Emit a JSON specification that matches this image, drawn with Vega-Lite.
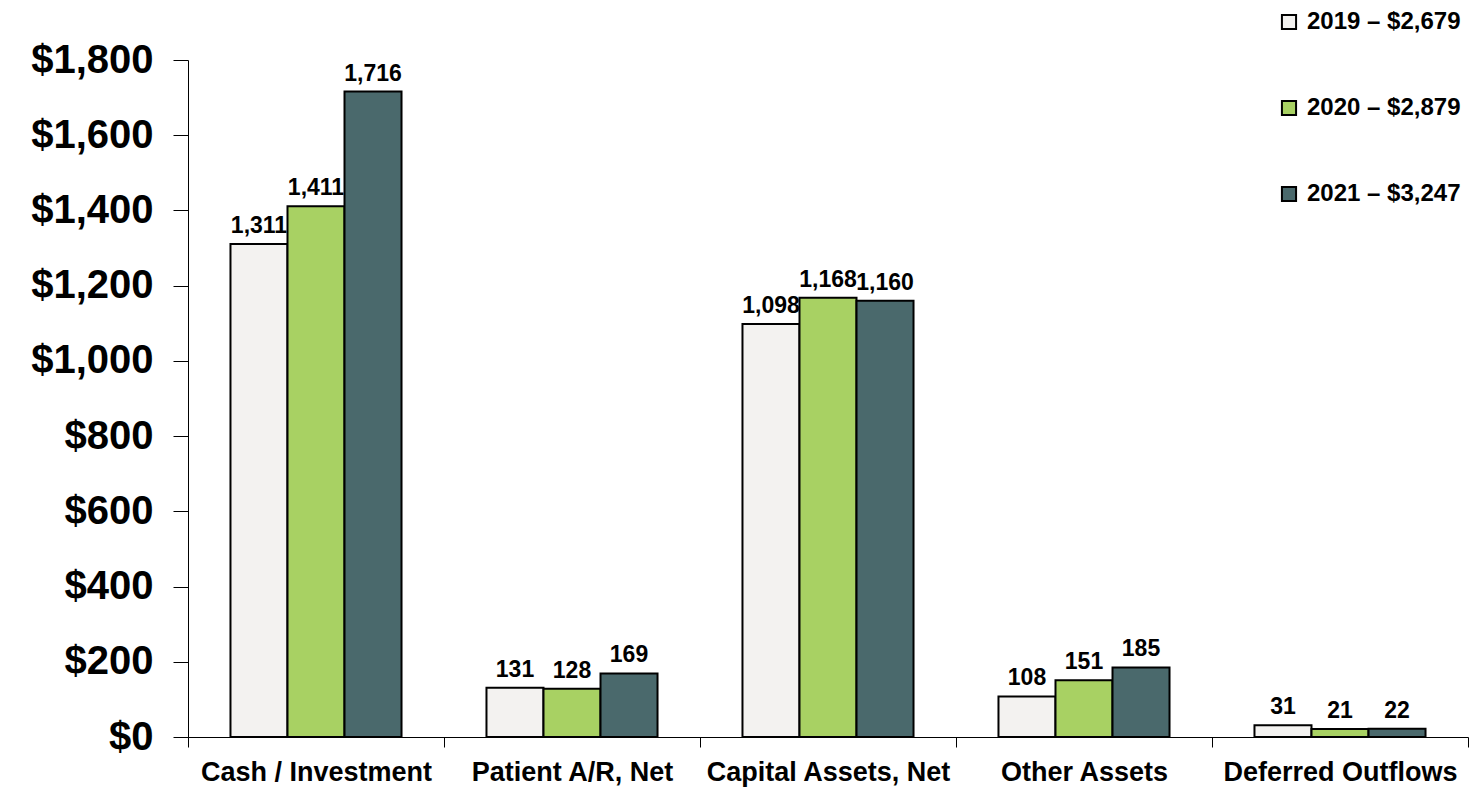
{
  "$schema": "https://vega.github.io/schema/vega-lite/v6.json",
  "width": 1280,
  "height": 677,
  "autosize": {"type": "none"},
  "padding": {"left": 188, "top": 60, "right": 14, "bottom": 54},
  "background": "white",
  "config": {
    "view": {"stroke": null},
    "font": "Liberation Sans"
  },
  "data": {
    "values": [
      {"category": "Cash / Investment", "year": "2019 – $2,679", "value": 1311, "label": "1,311"},
      {"category": "Cash / Investment", "year": "2020 – $2,879", "value": 1411, "label": "1,411"},
      {"category": "Cash / Investment", "year": "2021 – $3,247", "value": 1716, "label": "1,716"},
      {"category": "Patient A/R, Net", "year": "2019 – $2,679", "value": 131, "label": "131"},
      {"category": "Patient A/R, Net", "year": "2020 – $2,879", "value": 128, "label": "128"},
      {"category": "Patient A/R, Net", "year": "2021 – $3,247", "value": 169, "label": "169"},
      {"category": "Capital Assets, Net", "year": "2019 – $2,679", "value": 1098, "label": "1,098"},
      {"category": "Capital Assets, Net", "year": "2020 – $2,879", "value": 1168, "label": "1,168"},
      {"category": "Capital Assets, Net", "year": "2021 – $3,247", "value": 1160, "label": "1,160"},
      {"category": "Other Assets", "year": "2019 – $2,679", "value": 108, "label": "108"},
      {"category": "Other Assets", "year": "2020 – $2,879", "value": 151, "label": "151"},
      {"category": "Other Assets", "year": "2021 – $3,247", "value": 185, "label": "185"},
      {"category": "Deferred Outflows", "year": "2019 – $2,679", "value": 31, "label": "31"},
      {"category": "Deferred Outflows", "year": "2020 – $2,879", "value": 21, "label": "21"},
      {"category": "Deferred Outflows", "year": "2021 – $3,247", "value": 22, "label": "22"}
    ]
  },
  "encoding": {
    "x": {
      "field": "category",
      "type": "nominal",
      "sort": null,
      "scale": {"paddingInner": 0, "paddingOuter": 0},
      "axis": {
        "title": null,
        "labelAngle": 0,
        "labelFont": "Liberation Sans",
        "labelFontSize": 27,
        "labelFontWeight": "bold",
        "labelColor": "black",
        "labelPadding": 12,
        "labelLimit": 0,
        "tickSize": 10,
        "tickColor": "black",
        "tickWidth": 1,
        "tickBand": "extent",
        "domainColor": "black",
        "domainWidth": 1
      }
    },
    "xOffset": {
      "field": "year",
      "type": "nominal",
      "sort": null,
      "scale": {"paddingInner": 0, "paddingOuter": 0.745}
    },
    "y": {
      "field": "value",
      "type": "quantitative",
      "scale": {"domain": [0, 1800], "nice": false},
      "axis": {
        "title": null,
        "values": [0, 200, 400, 600, 800, 1000, 1200, 1400, 1600, 1800],
        "format": "$,.0f",
        "grid": false,
        "labelFont": "Liberation Sans",
        "labelFontSize": 40,
        "labelFontWeight": "bold",
        "labelColor": "black",
        "labelPadding": 20,
        "tickSize": 15,
        "tickColor": "black",
        "domainColor": "black"
      }
    }
  },
  "layer": [
    {
      "mark": {"type": "bar", "stroke": "black", "strokeWidth": 2},
      "encoding": {
        "color": {
          "field": "year",
          "type": "nominal",
          "sort": null,
          "scale": {"range": ["#f3f2f0", "#a8d163", "#4a696c"]},
          "legend": {
            "title": null,
            "orient": "none",
            "legendX": 1089,
            "legendY": -50,
            "padding": 0,
            "symbolType": "square",
            "symbolSize": 200,
            "symbolStrokeColor": "black",
            "symbolStrokeWidth": 2,
            "symbolOpacity": 1,
            "labelFont": "Liberation Sans",
            "labelFontSize": 24,
            "labelFontWeight": "bold",
            "labelColor": "black",
            "labelOffset": 6,
            "rowPadding": 62,
            "labelLimit": 300
          }
        }
      }
    },
    {
      "mark": {
        "type": "text",
        "baseline": "alphabetic",
        "dy": -11,
        "font": "Liberation Sans",
        "fontSize": 23,
        "fontWeight": "bold",
        "color": "black"
      },
      "encoding": {
        "text": {"field": "label"}
      }
    }
  ]
}
